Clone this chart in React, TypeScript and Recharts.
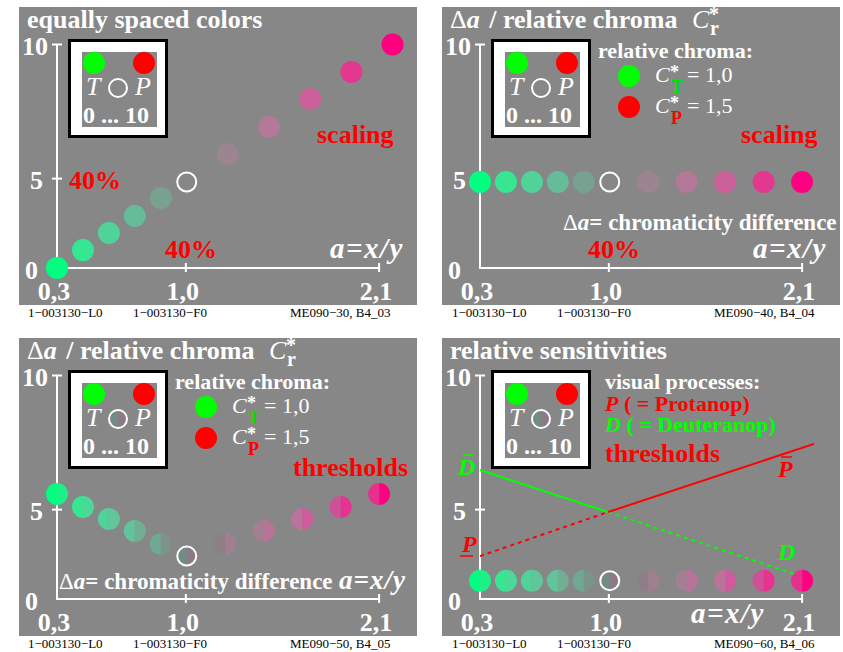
import React from 'react';
import { ComposedChart, Scatter, Line, XAxis, YAxis } from 'recharts';

const FONT = "'Liberation Serif', 'Times New Roman', serif";
const GRAY = '#878787';
const PANEL_W = 398;
const PANEL_H = 298;
const MARGIN = { top: 37.5, right: 20, bottom: 0, left: 0 };
const Y_AXIS_W = 38;
const X_AXIS_H = 37;
const X_DOMAIN = [0.3, 2.2];
const Y_DOMAIN = [0, 10];
const X_AXIS_END = 2.1;

// a = x/y of the eleven samples (0,3 ... 1,0 ... 2,1)
const aValues = [0.3, 0.445, 0.59, 0.735, 0.88, 1.025, 1.24, 1.455, 1.67, 1.885, 2.1];
const aValuesScaling = [0.3, 0.445, 0.59, 0.735, 0.88, 1.025, 1.255, 1.485, 1.715, 1.945, 2.175];

// ordinate values of the samples, one list per panel
const scalingValues = [0, 0.8, 1.57, 2.33, 3.13, 3.85, 5.1, 6.31, 7.56, 8.77, 10];
const chromaValues = [3.85, 3.85, 3.85, 3.85, 3.85, 3.85, 3.85, 3.85, 3.85, 3.85, 3.85];
const thresholdValues = [4.7, 4.12, 3.58, 3.04, 2.46, 1.92, 2.46, 3.04, 3.58, 4.12, 4.7];
const sensitivityValues = [0.82, 0.82, 0.82, 0.82, 0.82, 0.82, 0.82, 0.82, 0.82, 0.82, 0.82];

// sensitivity lines (panel 4)
const dBarA = [0.3, 1.015];
const dBarValues = [5.77, 3.89];
const dA = [1.015, 2.156];
const dValues = [3.89, 0.85];
const pA = [0.3, 1.015];
const pValues = [1.92, 3.89];
const pBarA = [1.015, 2.167];
const pBarValues = [3.89, 6.94];

const xTicks = [0.3, 1.02, 2.1];
const xTickLabels = ['0,3', '1,0', '2,1'];
const yTicks = [0, 4, 10];
const yTickLabels = ['0', '5', '10'];

// colours of the samples (index 5 is the open ring)
const fullColors = ['#00ff80', '#36e692', '#50d298', '#66bc98', '#78a290', '', '#9c8490', '#b47898', '#cc609a', '#e43890', '#ff0080'];
const leftColors = ['#00ff80', '#36e692', '#50d298', '#62c49a', '#6eaa92', '#708c84', '#8e7e88', '#a47e92', '#b8749a', '#d05098', '#e6308e'];
const rightColors = ['#1ef088', '#4ed898', '#62c69a', '#72ae94', '#7c9488', '#8c7a88', '#a0808e', '#b87498', '#d05a9c', '#e63290', '#ff0080'];
const RING = 5;

const toRows = (xs: number[], ys: number[]) => xs.map((a, i) => ({ a, v: ys[i], i }));
const findTick = (list: number[], v: number) => list.findIndex((t) => Math.abs(t - Number(v)) < 1e-6);

const scalingRows = toRows(aValuesScaling, scalingValues);
const chromaRows = toRows(aValues, chromaValues);
const thresholdRows = toRows(aValues, thresholdValues);
const sensitivityRows = toRows(aValues, sensitivityValues);
const dBarRows = toRows(dBarA, dBarValues);
const dRows = toRows(dA, dValues);
const pRows = toRows(pA, pValues);
const pBarRows = toRows(pBarA, pBarValues);

// plot box, same numbers the chart gets, used for the axis frame
const plotLeft = MARGIN.left + Y_AXIS_W;
const plotWidth = PANEL_W - MARGIN.left - MARGIN.right - Y_AXIS_W;
const plotHeight = PANEL_H - MARGIN.top - MARGIN.bottom - X_AXIS_H;
const xPix = (a: number) => plotLeft + ((a - X_DOMAIN[0]) / (X_DOMAIN[1] - X_DOMAIN[0])) * plotWidth;
const yPix = (v: number) => MARGIN.top + (1 - (v - Y_DOMAIN[0]) / (Y_DOMAIN[1] - Y_DOMAIN[0])) * plotHeight;

const halves = (cx: number, cy: number, r: number, l: string, rc: string) => (
  <>
    <path d={`M${cx},${cy - r} A${r},${r} 0 0 0 ${cx},${cy + r} Z`} fill={l} />
    <path d={`M${cx},${cy - r} A${r},${r} 0 0 1 ${cx},${cy + r} Z`} fill={rc} />
  </>
);

const makeDot = (split: boolean) => (props: any) => {
  const { cx, cy, payload } = props;
  const i = payload.i;
  if (i === RING) {
    return (
      <g>
        {split && halves(cx, cy, 9.5, leftColors[i], rightColors[i])}
        <circle cx={cx} cy={cy} r={9.5} fill="none" stroke="#fff" strokeWidth={2} />
      </g>
    );
  }
  if (!split) return <circle cx={cx} cy={cy} r={11} fill={fullColors[i]} />;
  return <g>{halves(cx, cy, 11, leftColors[i], rightColors[i])}</g>;
};
const solidDot = makeDot(false);
const splitDot = makeDot(true);

const XTick = ({ x, y, payload }: any) => {
  const idx = findTick(xTicks, payload.value);
  return (
    <text x={x - 3} y={y + 32} textAnchor="middle" fontFamily={FONT} fontWeight="bold" fontSize={26} fill="#fff">
      {idx >= 0 ? xTickLabels[idx] : ''}
    </text>
  );
};

const yLabelGap = [19, 14, 9];
const YTick = ({ x, y, payload }: any) => {
  const idx = findTick(yTicks, payload.value);
  return (
    <text x={x - (idx >= 0 ? yLabelGap[idx] : 9)} y={y + 10.5} textAnchor="end" fontFamily={FONT} fontWeight="bold" fontSize={26} fill="#fff">
      {idx >= 0 ? yTickLabels[idx] : ''}
    </text>
  );
};

// axis frame with crossing tick marks
const Frame = ({ midTick = true }: { midTick?: boolean }) => {
  const x0 = xPix(X_DOMAIN[0]);
  const y0 = yPix(Y_DOMAIN[0]);
  return (
    <g stroke="#fff" strokeWidth={2}>
      <line x1={x0} x2={x0} y1={yPix(Y_DOMAIN[1])} y2={y0 + 1} />
      <line x1={x0 - 1} x2={xPix(X_AXIS_END)} y1={y0} y2={y0} />
      {yTicks.slice(1).map((t, k) =>
        (midTick || k === yTicks.length - 2) ? <line key={t} x1={x0 - 5} x2={x0 + 5} y1={yPix(t)} y2={yPix(t)} /> : null)}
      {xTicks.slice(1).map((t) => <line key={t} x1={xPix(t)} x2={xPix(t)} y1={y0 - 5} y2={y0 + 4} />)}
    </g>
  );
};

const Inset = ({ split }: { split: boolean }) => (
  <g>
    <rect x={50.5} y={33.5} width={97} height={96} fill="#fff" stroke="#000" strokeWidth={3} />
    <rect x={63} y={45} width={75} height={75} fill={GRAY} />
    <circle cx={75} cy={56} r={11} fill="#00ff00" />
    <circle cx={125} cy={56} r={11} fill="#ff0000" />
    <text x={67} y={88} fontSize={26} fontStyle="italic" fill="#fff">T</text>
    {split && halves(99, 81, 9, leftColors[RING], rightColors[RING])}
    <circle cx={99} cy={81} r={9} fill="none" stroke="#fff" strokeWidth={2} />
    <text x={116} y={88} fontSize={26} fontStyle="italic" fill="#fff">P</text>
    <text x={64} y={116} fontSize={24} fontWeight="bold" fill="#fff">0 ... 10</text>
  </g>
);

const ChromaTitle = () => (
  <g>
    <text x={8} y={21} fontSize={26} fontWeight="bold" fill="#fff">
      <tspan fontWeight="normal">Δ</tspan>
      <tspan fontStyle="italic">a</tspan>
      <tspan dx={3}> / relative chroma</tspan>
    </text>
    <text x={250} y={21} fontSize={26} fontStyle="italic" fill="#fff">C</text>
    <text x={267} y={14} fontSize={20} fontWeight="bold" fill="#fff">*</text>
    <text x={268} y={28} fontSize={20} fontWeight="bold" fill="#fff">r</text>
  </g>
);

const ChromaLegend = () => (
  <g>
    <text x={156} y={51} fontSize={22} fontWeight="bold" fill="#fff">relative chroma:</text>
    <circle cx={187} cy={69} r={11} fill="#00ff00" />
    <text x={213} y={75} fontSize={22} fontStyle="italic" fill="#fff">C</text>
    <text x={228} y={71} fontSize={18} fontWeight="bold" fill="#fff">*</text>
    <text x={229} y={86} fontSize={18} fontWeight="bold" fill="#00e000">T</text>
    <text x={245} y={75} fontSize={22} fill="#fff">= 1,0</text>
    <circle cx={187} cy={100} r={11} fill="#ff0000" />
    <text x={213} y={106} fontSize={22} fontStyle="italic" fill="#fff">C</text>
    <text x={228} y={102} fontSize={18} fontWeight="bold" fill="#fff">*</text>
    <text x={229} y={117} fontSize={18} fontWeight="bold" fill="#ff0000">P</text>
    <text x={245} y={106} fontSize={22} fill="#fff">= 1,5</text>
  </g>
);

const AxisEq = ({ x, y }: { x: number; y: number }) => (
  <text x={x} y={y} fontSize={29} fontStyle="italic" fontWeight="bold" fill="#fff" letterSpacing={1.5}>a=x/y</text>
);

const Panel = ({ left, top, children, overlay, midTick = true }: any) => (
  <div style={{ position: 'absolute', left, top, width: PANEL_W, height: PANEL_H, background: GRAY }}>
    <svg width={PANEL_W} height={PANEL_H} style={{ position: 'absolute', left: 0, top: 0 }}>
      <Frame midTick={midTick} />
    </svg>
    <div style={{ position: 'absolute', left: 0, top: 0 }}>
      <ComposedChart width={PANEL_W} height={PANEL_H} margin={MARGIN}>
        <XAxis type="number" dataKey="a" domain={X_DOMAIN} ticks={xTicks} interval={0} height={X_AXIS_H}
          axisLine={false} tickLine={false} tickSize={0} tickMargin={0} tick={<XTick />} />
        <YAxis type="number" dataKey="v" domain={Y_DOMAIN} ticks={yTicks} interval={0} width={Y_AXIS_W}
          axisLine={false} tickLine={false} tickSize={0} tickMargin={0} tick={<YTick />} />
        {children}
      </ComposedChart>
    </div>
    <svg width={PANEL_W} height={PANEL_H} style={{ position: 'absolute', left: 0, top: 0, pointerEvents: 'none' }}
      fontFamily={FONT}>
      {overlay}
    </svg>
  </div>
);

const Footer = ({ x, y, code }: { x: number; y: number; code: string }) => (
  <g>
    <text x={x} y={y}>1−003130−L0</text>
    <text x={x + 105} y={y}>1−003130−F0</text>
    <text x={x + 262} y={y}>{code}</text>
  </g>
);

export default function App() {
  return (
    <div style={{ position: 'absolute', left: 0, top: 0, width: 843, height: 652, background: '#fff' }}>
      <Panel left={19} top={7}
        overlay={
          <>
            <text x={8} y={21} fontSize={26} fontWeight="bold" fill="#fff">equally spaced colors</text>
            <Inset split={false} />
            <text x={298} y={136} fontSize={26} fontWeight="bold" fill="#ff0000">scaling</text>
            <text x={50} y={182} fontSize={26} fontWeight="bold" fill="#ff0000">40%</text>
            <text x={146} y={251} fontSize={26} fontWeight="bold" fill="#ff0000">40%</text>
            <AxisEq x={311} y={251} />
          </>
        }>
        <Scatter data={scalingRows} dataKey="v" shape={solidDot} isAnimationActive={false} />
      </Panel>

      <Panel left={442} top={7} midTick={false}
        overlay={
          <>
            <ChromaTitle />
            <Inset split={false} />
            <ChromaLegend />
            <text x={299} y={136} fontSize={26} fontWeight="bold" fill="#ff0000">scaling</text>
            <text x={121} y={223} fontSize={23} fontWeight="bold" fill="#fff">
              <tspan fontWeight="normal">Δ</tspan><tspan fontStyle="italic">a</tspan>= chromaticity difference
            </text>
            <text x={146} y={251} fontSize={26} fontWeight="bold" fill="#ff0000">40%</text>
            <AxisEq x={311} y={251} />
          </>
        }>
        <Scatter data={chromaRows} dataKey="v" shape={solidDot} isAnimationActive={false} />
      </Panel>

      <Panel left={19} top={338}
        overlay={
          <>
            <ChromaTitle />
            <Inset split={true} />
            <ChromaLegend />
            <text x={274} y={138} fontSize={26} fontWeight="bold" fill="#ff0000">thresholds</text>
            <text x={40} y={251} fontSize={23} fontWeight="bold" fill="#fff">
              <tspan fontWeight="normal">Δ</tspan><tspan fontStyle="italic">a</tspan>= chromaticity difference
            </text>
            <text x={320} y={251} fontSize={27} fontStyle="italic" fontWeight="bold" fill="#fff" letterSpacing={1}>a=x/y</text>
          </>
        }>
        <Scatter data={thresholdRows} dataKey="v" shape={splitDot} isAnimationActive={false} />
      </Panel>

      <Panel left={442} top={338}
        overlay={
          <>
            <text x={8} y={21} fontSize={26} fontWeight="bold" fill="#fff">relative sensitivities</text>
            <Inset split={true} />
            <text x={163} y={51} fontSize={22} fontWeight="bold" fill="#fff">visual processes:</text>
            <text x={163} y={73} fontSize={22} fontWeight="bold" fill="#ff0000">
              <tspan fontStyle="italic">P</tspan> ( = Protanop)
            </text>
            <text x={163} y={94} fontSize={22} fontWeight="bold" fill="#00ff00">
              <tspan fontStyle="italic">D</tspan> ( = Deuteranop)
            </text>
            <text x={163} y={124} fontSize={26} fontWeight="bold" fill="#ff0000">thresholds</text>
            <text x={16} y={137} fontSize={24} fontStyle="italic" fontWeight="bold" fill="#00ff00">D</text>
            <line x1={21} x2={31} y1={117} y2={117} stroke="#00ff00" strokeWidth={1.5} />
            <text x={20} y={214} fontSize={24} fontStyle="italic" fontWeight="bold" fill="#ff0000">P</text>
            <line x1={18} x2={31} y1={218} y2={218} stroke="#ff0000" strokeWidth={1.5} />
            <text x={336} y={222} fontSize={24} fontStyle="italic" fontWeight="bold" fill="#00ff00">D</text>
            <text x={336} y={139} fontSize={24} fontStyle="italic" fontWeight="bold" fill="#ff0000">P</text>
            <line x1={339} x2={350} y1={119} y2={119} stroke="#ff0000" strokeWidth={1.5} />
            <AxisEq x={249} y={285} />
          </>
        }>
        <Scatter data={sensitivityRows} dataKey="v" shape={splitDot} isAnimationActive={false} />
        <Line data={dBarRows} dataKey="v" type="linear" stroke="#00ff00" strokeWidth={2} dot={false} isAnimationActive={false} />
        <Line data={dRows} dataKey="v" type="linear" stroke="#00ff00" strokeWidth={2} strokeDasharray="4 4" dot={false} isAnimationActive={false} />
        <Line data={pRows} dataKey="v" type="linear" stroke="#ff0000" strokeWidth={2} strokeDasharray="4 4" dot={false} isAnimationActive={false} />
        <Line data={pBarRows} dataKey="v" type="linear" stroke="#ff0000" strokeWidth={2} dot={false} isAnimationActive={false} />
      </Panel>

      <svg width={843} height={652} style={{ position: 'absolute', left: 0, top: 0, pointerEvents: 'none' }}
        fontFamily={FONT} fontSize={13} fill="#000">
        <Footer x={28} y={317} code="ME090−30, B4_03" />
        <Footer x={452} y={317} code="ME090−40, B4_04" />
        <Footer x={28} y={648} code="ME090−50, B4_05" />
        <Footer x={452} y={648} code="ME090−60, B4_06" />
      </svg>
    </div>
  );
}
